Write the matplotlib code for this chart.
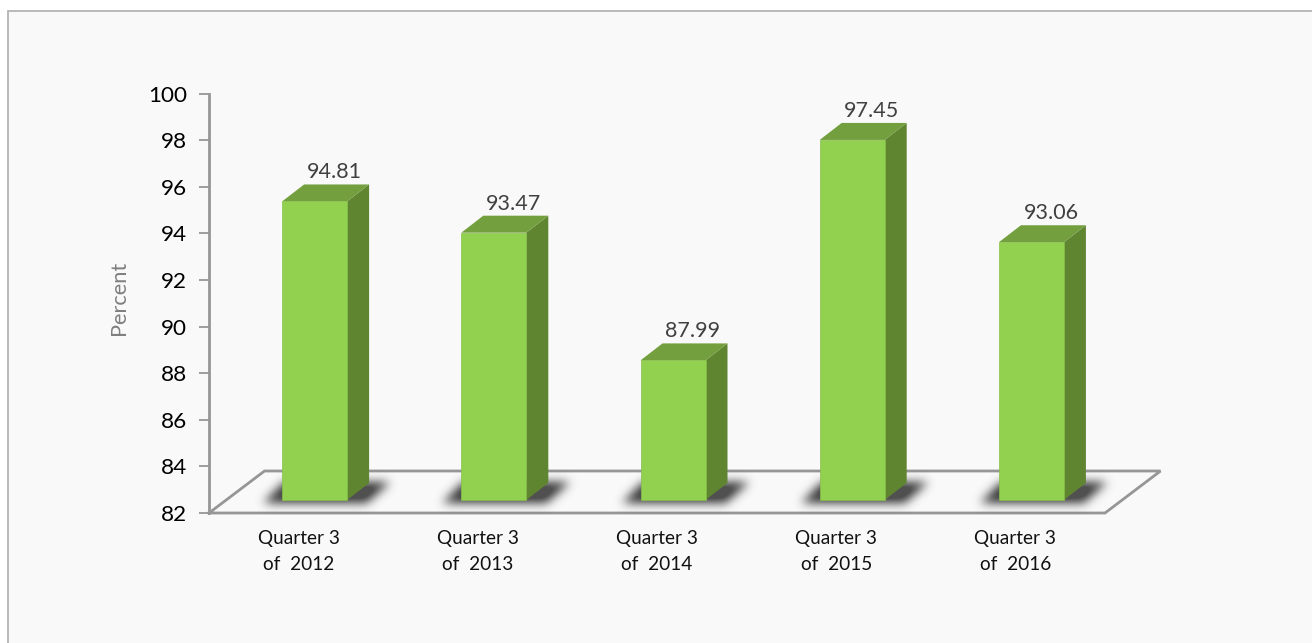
#!/usr/bin/env python3
import matplotlib
matplotlib.use("Agg")
import matplotlib.pyplot as plt
import numpy as np
from matplotlib.patches import Rectangle
from matplotlib.path import Path

categories = ["Quarter 3\nof  2012", "Quarter 3\nof  2013", "Quarter 3\nof  2014",
              "Quarter 3\nof  2015", "Quarter 3\nof  2016"]
values = [94.81, 93.47, 87.99, 97.45, 93.06]
y_ticks = [82, 84, 86, 88, 90, 92, 94, 96, 98, 100]

W, H = 1312, 643
plt.rcParams["font.family"] = ["Lato", "DejaVu Sans"]


def shadow_image(sigma=5.0):
    # blurred parallelogram, sampled per pixel around the bar's front-left corner
    xs = np.arange(-50, 140)
    ys = np.arange(-25, 45)
    gx, gy = np.meshgrid(xs, ys)
    core = Path([(-20, -4), (84, -4), (108, 17), (2, 17)])
    mask = core.contains_points(np.c_[gx.ravel(), gy.ravel()]).reshape(gx.shape).astype(float)
    r = np.arange(-15, 16)
    kernel = np.exp(-0.5 * (r / sigma) ** 2)
    kernel /= kernel.sum()
    mask = np.apply_along_axis(lambda m: np.convolve(m, kernel, mode="same"), 0, mask)
    mask = np.apply_along_axis(lambda m: np.convolve(m, kernel, mode="same"), 1, mask)
    rgba = np.zeros(mask.shape + (4,))
    rgba[..., :3] = 0.22
    rgba[..., 3] = np.clip(mask * 1.05, 0, 0.88)
    return rgba, xs, ys


fig = plt.figure(figsize=(W / 100, H / 100), dpi=100, facecolor="white")
# panel runs off the right and bottom edges, only top and left borders show
fig.add_artist(Rectangle((8 / W, -0.01), (W + 10) / W, (H - 11) / H + 0.01, transform=fig.transFigure,
                         facecolor="#f9f9f9", edgecolor="#b4b4b4", linewidth=1.3, zorder=-1))

ax = fig.add_axes([209 / W, (H - 513) / H, 896 / W, 419.5 / H])
ax.patch.set_alpha(0)

# pixel sizes converted to data units
px_x = 5 / 896
px_y = 18 / 419.5
base = 82 + 13 * px_y
shift = 16.0 * px_x
bar_w = 65 * px_x
dx = 22 * px_x
dy = 17 * px_y

# floor
floor_dx = 55.5 * px_x
floor_dy = 42 * px_y
ax.plot([-0.5, 4.5, 4.5 + floor_dx, -0.5 + floor_dx, -0.5],
        [82, 82, 82 + floor_dy, 82 + floor_dy, 82],
        color="#969696", lw=2, clip_on=False, zorder=1, solid_joinstyle="miter")

shadow, sxs, sys_ = shadow_image()
for i, v in enumerate(values):
    left = i + shift - bar_w / 2
    right = left + bar_w
    top = base + v - 82

    # soft shadow on the floor
    ax.imshow(shadow, origin="lower", aspect="auto", interpolation="bilinear", zorder=2,
              extent=[left + sxs[0] * px_x, left + sxs[-1] * px_x,
                      base + sys_[0] * px_y, base + sys_[-1] * px_y], clip_on=False)

    ax.bar(i + shift, v - 82, bottom=base, width=bar_w, color="#92d14f", edgecolor="#86bf49",
           linewidth=0.5, zorder=4)
    # side and top faces
    ax.fill([right, right + dx, right + dx, right], [base, base + dy, top + dy, top],
            color="#5f8530", lw=0, zorder=3)
    ax.fill([left, left + dx, right + dx, right], [top, top + dy, top + dy, top],
            color="#739f3e", lw=0, zorder=3)
    ax.text(i + shift + 0.5 * dx + 8.5 * px_x, top + dy + 0.09, f"{v:.2f}", ha="center", va="bottom",
            fontsize=15.5, color="#404040", zorder=5)

ax.set_xlim(-0.5, 4.5)
ax.set_ylim(82, 100)

for s in ["top", "right", "bottom"]:
    ax.spines[s].set_visible(False)
ax.spines["left"].set_color("#969696")
ax.spines["left"].set_linewidth(2)

ax.set_yticks(y_ticks)
ax.tick_params(axis="y", length=7, width=1.3, color="#969696", labelsize=16.2, pad=9,
               labelcolor="black")
ax.set_xticks([])

for i, c in enumerate(categories):
    ax.text(i, 82 - 17 * px_y, c, ha="center", va="top", fontsize=13.7,
            color="#111111", linespacing=1.62)

fig.text(119 / W, 1 - 298 / H, "Percent", rotation=90, ha="center", va="center",
         fontsize=15.7, color="#7f7f7f")

plt.savefig("out.png", dpi=100, facecolor=fig.get_facecolor())
